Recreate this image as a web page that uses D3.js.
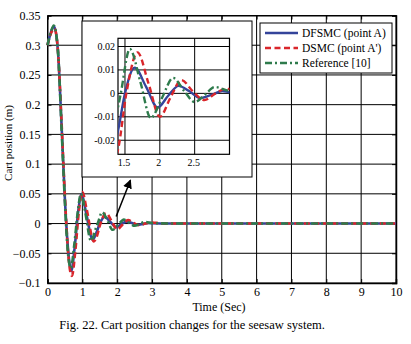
<!DOCTYPE html>
<html>
<head>
<meta charset="utf-8">
<script src="https://cdn.jsdelivr.net/npm/d3@7"></script>
<style>
  body { margin: 0; background: #ffffff; }
  svg { display: block; font-family: "Liberation Serif", "DejaVu Serif", serif; }
</style>
</head>
<body>
<div id="chart"></div>
<script>
// Values (time in s, cart position in m)
var dfsmcTime  = [0, 0.1, 0.19, 0.3, 0.4, 0.5, 0.6, 0.68, 0.78, 0.88, 0.98, 1.1, 1.3, 1.4, 1.5, 1.64, 1.8, 1.97, 2.12, 2.27, 2.42, 2.58, 2.75, 2.9, 3.0, 3.5, 10];
var dfsmcValue = [0.30, 0.322, 0.332, 0.29, 0.17, 0.04, -0.05, -0.08, -0.04, 0.02, 0.05, 0.02, -0.027, -0.016, 0.0, 0.011, 0.003, -0.006, -0.001, 0.0032, 0.001, -0.002, -0.0005, 0.001, 0.0005, 0, 0];

var dsmcTime  = [0, 0.1, 0.2, 0.3, 0.4, 0.5, 0.6, 0.7, 0.8, 0.9, 1.0, 1.12, 1.33, 1.4, 1.52, 1.68, 1.84, 2.0, 2.15, 2.31, 2.47, 2.64, 2.8, 2.95, 3.0, 3.5, 10];
var dsmcValue = [0.30, 0.32, 0.328, 0.29, 0.175, 0.045, -0.055, -0.088, -0.045, 0.02, 0.053, 0.025, -0.03, -0.024, 0.0, 0.0175, 0.004, -0.010, -0.002, 0.0057, 0.001, -0.0029, 0.0, 0.002, 0.0018, 0, 0];

var refTime  = [0, 0.1, 0.18, 0.3, 0.4, 0.5, 0.58, 0.67, 0.77, 0.87, 0.96, 1.08, 1.25, 1.4, 1.44, 1.57, 1.72, 1.87, 2.03, 2.19, 2.35, 2.5, 2.65, 2.79, 3.0, 3.5, 10];
var refValue = [0.30, 0.323, 0.333, 0.29, 0.165, 0.035, -0.045, -0.075, -0.035, 0.02, 0.05, 0.02, -0.029, -0.006, 0.0, 0.019, 0.005, -0.0105, -0.002, 0.0066, 0.001, -0.0037, -0.0005, 0.0027, 0.001, 0, 0];

var seriesNames = ["DFSMC (point A)", "DSMC (point A')", "Reference [10]"];
var xTicks = [0, 1, 2, 3, 4, 5, 6, 7, 8, 9, 10];
var yTicks = [-0.1, -0.05, 0, 0.05, 0.1, 0.15, 0.2, 0.25, 0.3, 0.35];
var insetXTicks = [1.5, 2, 2.5];
var insetYTicks = [-0.02, -0.01, 0, 0.01, 0.02];
// arrow from the curve up to the zoom box: [time, position]
var arrowFrom = [1.97, 0.012];
var arrowTo = [2.38, 0.073];

var width = 411, height = 344;

var svg = d3.select('#chart')
    .append('svg')
    .attr('width', width)
    .attr('height', height);

svg.append('defs').append('marker')
    .attr('id', 'head')
    .attr('viewBox', '0 0 10 10')
    .attr('refX', 9).attr('refY', 5)
    .attr('markerWidth', 9).attr('markerHeight', 9)
    .attr('markerUnits', 'userSpaceOnUse')
    .attr('orient', 'auto')
    .append('path')
    .attr('d', 'M0,0 L10,5 L0,10 z')
    .attr('fill', '#000');

// Zip time and value arrays into point lists
function zip(t, v) {
    return t.map(function(d, i) { return [d, v[i]]; });
}
var series = [
    { name: seriesNames[0], pts: zip(dfsmcTime, dfsmcValue), color: '#34449a', dash: null },
    { name: seriesNames[1], pts: zip(dsmcTime, dsmcValue), color: '#d9262b', dash: '6,3.5' },
    { name: seriesNames[2], pts: zip(refTime, refValue), color: '#2e7b4c', dash: '7,3,2,3' }
];

// Main axes
var x = d3.scaleLinear().domain([0, 10]).range([47.5, 396]);
var y = d3.scaleLinear().domain([-0.1, 0.35]).range([283, 15.5]);

var main = svg.append('g');

// grid lines
main.selectAll('.vgrid').data(xTicks).enter().append('line')
    .attr('x1', function(d) { return x(d); }).attr('x2', function(d) { return x(d); })
    .attr('y1', y(-0.1)).attr('y2', y(0.35))
    .attr('stroke', '#000').attr('stroke-width', 1);
main.selectAll('.hgrid').data(yTicks).enter().append('line')
    .attr('x1', x(0)).attr('x2', x(10))
    .attr('y1', function(d) { return y(d); }).attr('y2', function(d) { return y(d); })
    .attr('stroke', '#000').attr('stroke-width', 1);

// axes with inward ticks
main.append('g')
    .attr('transform', 'translate(0,' + y(-0.1) + ')')
    .call(d3.axisBottom(x).tickValues(xTicks).tickSize(-4).tickPadding(4).tickFormat(d3.format('d')))
    .call(function(g) { g.select('.domain').attr('stroke-width', 1.5); });
main.append('g')
    .attr('transform', 'translate(0,' + y(0.35) + ')')
    .call(d3.axisTop(x).tickValues(xTicks).tickSize(-4).tickFormat(''));
main.append('g')
    .attr('transform', 'translate(' + x(0) + ',0)')
    .call(d3.axisLeft(y).tickValues(yTicks).tickSize(-4).tickPadding(7).tickFormat(function(d) { return d3.format('')(+d.toFixed(2)); }));
main.append('g')
    .attr('transform', 'translate(' + x(10) + ',0)')
    .call(d3.axisRight(y).tickValues(yTicks).tickSize(-4).tickFormat(''))
    .call(function(g) { g.select('.domain').attr('stroke-width', 1.5); });

main.selectAll('.tick text')
    .attr('font-family', '"Liberation Serif", serif')
    .attr('font-size', 12)
    .attr('fill', '#000');

// curves
var line = d3.line()
    .x(function(d) { return x(d[0]); })
    .y(function(d) { return y(d[1]); })
    .curve(d3.curveMonotoneX);

main.selectAll('.curve').data(series).enter().append('path')
    .attr('d', function(d) { return line(d.pts); })
    .attr('fill', 'none')
    .attr('stroke', function(d) { return d.color; })
    .attr('stroke-width', 2.6)
    .attr('stroke-dasharray', function(d) { return d.dash; });

// arrow
main.append('line')
    .attr('x1', x(arrowFrom[0])).attr('y1', y(arrowFrom[1]))
    .attr('x2', x(arrowTo[0])).attr('y2', y(arrowTo[1]))
    .attr('stroke', '#000').attr('stroke-width', 1.5)
    .attr('marker-end', 'url(#head)');

// Inset (zoom on 1.4 - 3 s)
var ix = d3.scaleLinear().domain([1.4, 3]).range([118, 229.5]);
var iy = d3.scaleLinear().domain([-0.026, 0.0235]).range([154.3, 38.3]);

var inset = svg.append('g');
inset.append('rect')
    .attr('x', 82).attr('y', 21).attr('width', 170).attr('height', 156)
    .attr('fill', '#fff').attr('stroke', '#000').attr('stroke-width', 1);

svg.select('defs').append('clipPath').attr('id', 'insetClip')
    .append('rect')
    .attr('x', ix(1.4)).attr('y', iy(0.0235))
    .attr('width', ix(3) - ix(1.4)).attr('height', iy(-0.026) - iy(0.0235));

inset.selectAll('.ivgrid').data(insetXTicks).enter().append('line')
    .attr('x1', function(d) { return ix(d); }).attr('x2', function(d) { return ix(d); })
    .attr('y1', iy(-0.026)).attr('y2', iy(0.0235))
    .attr('stroke', '#000').attr('stroke-width', 1);
inset.selectAll('.ihgrid').data(insetYTicks).enter().append('line')
    .attr('x1', ix(1.4)).attr('x2', ix(3))
    .attr('y1', function(d) { return iy(d); }).attr('y2', function(d) { return iy(d); })
    .attr('stroke', '#000').attr('stroke-width', 1);
inset.append('rect')
    .attr('x', ix(1.4)).attr('y', iy(0.0235))
    .attr('width', ix(3) - ix(1.4)).attr('height', iy(-0.026) - iy(0.0235))
    .attr('fill', 'none').attr('stroke', '#000').attr('stroke-width', 1.2);

var iline = d3.line()
    .x(function(d) { return ix(d[0]); })
    .y(function(d) { return iy(d[1]); })
    .curve(d3.curveMonotoneX);

inset.append('g').attr('clip-path', 'url(#insetClip)')
    .selectAll('path').data(series).enter().append('path')
    .attr('d', function(d) { return iline(d.pts.filter(function(p) { return p[0] >= 1.2 && p[0] <= 3.5; })); })
    .attr('fill', 'none')
    .attr('stroke', function(d) { return d.color; })
    .attr('stroke-width', 2.4)
    .attr('stroke-dasharray', function(d) { return d.dash; });

inset.selectAll('.ixlab').data(insetXTicks).enter().append('text')
    .attr('x', function(d) { return ix(d) - 1; })
    .attr('y', 166)
    .attr('text-anchor', 'middle')
    .attr('font-size', 10)
    .text(function(d) { return d; });
inset.selectAll('.iylab').data(insetYTicks).enter().append('text')
    .attr('x', 115)
    .attr('y', function(d) { return iy(d); })
    .attr('dy', '0.35em')
    .attr('text-anchor', 'end')
    .attr('font-size', 10)
    .text(function(d) { return d; });

// Legend
var legend = svg.append('g');
legend.append('rect')
    .attr('x', 260).attr('y', 23).attr('width', 132).attr('height', 50)
    .attr('fill', '#fff').attr('stroke', '#000').attr('stroke-width', 1);

var legendItem = legend.selectAll('.legend-item').data(series).enter().append('g')
    .attr('transform', function(d, i) { return 'translate(265,' + (33 + i * 15) + ')'; });
legendItem.append('line')
    .attr('x1', 0).attr('x2', 33).attr('y1', 0).attr('y2', 0)
    .attr('stroke', function(d) { return d.color; })
    .attr('stroke-width', 2.6)
    .attr('stroke-dasharray', function(d) { return d.dash; });
legendItem.append('text')
    .attr('x', 37).attr('y', 0).attr('dy', '0.35em')
    .attr('font-size', 11.5)
    .text(function(d) { return d.name; });

// Titles
svg.append('text')
    .attr('transform', 'translate(12,143) rotate(-90)')
    .attr('text-anchor', 'middle')
    .attr('font-size', 11)
    .text('Cart position (m)');
svg.append('text')
    .attr('x', 219).attr('y', 311)
    .attr('text-anchor', 'middle')
    .attr('font-size', 12)
    .text('Time (Sec)');
svg.append('text')
    .attr('x', 192).attr('y', 329)
    .attr('text-anchor', 'middle')
    .attr('font-size', 12.5)
    .text('Fig. 22. Cart position changes for the seesaw system.');
</script>
</body>
</html>
